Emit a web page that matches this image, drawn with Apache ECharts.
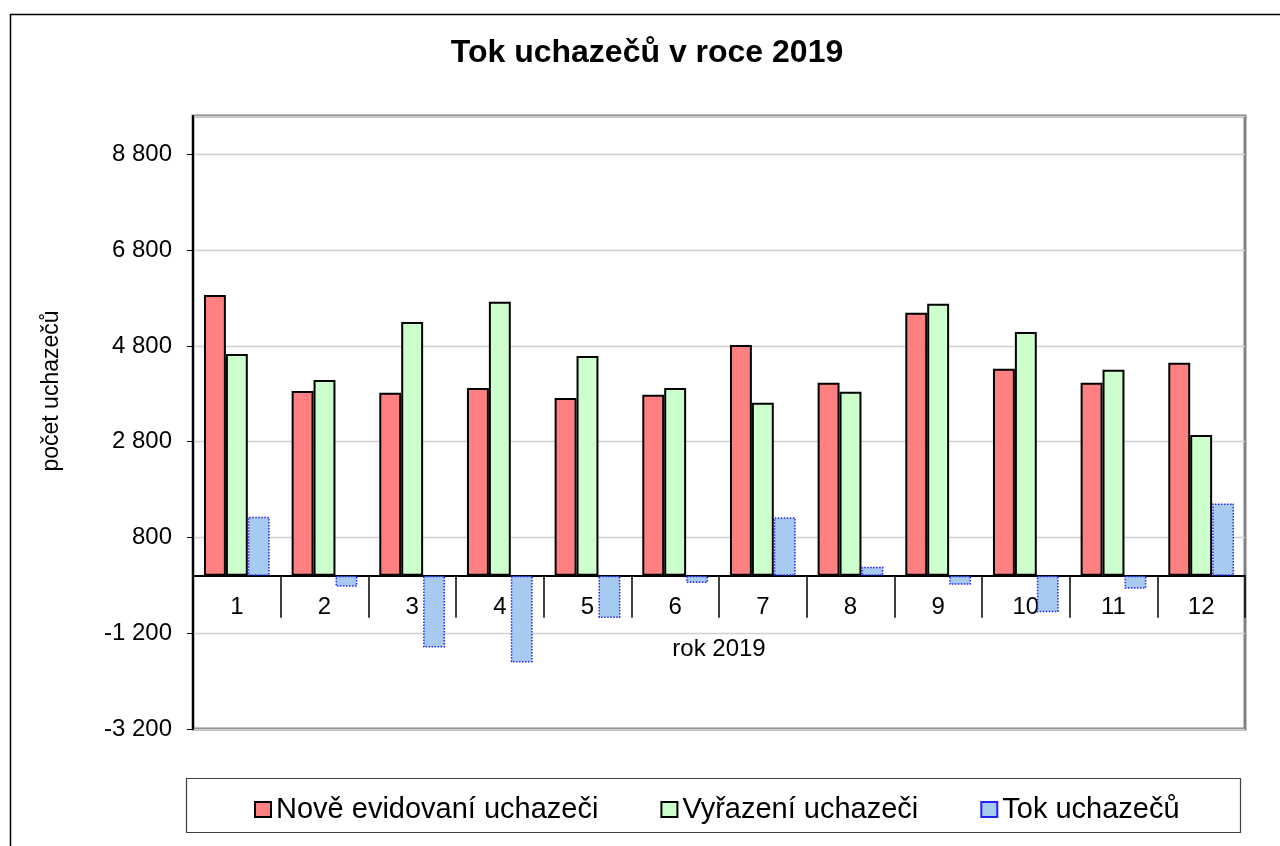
<!DOCTYPE html>
<html>
<head>
<meta charset="utf-8">
<title>Tok uchazečů v roce 2019</title>
<script src="https://cdn.jsdelivr.net/npm/echarts@6/dist/echarts.min.js"></script>
<style>
  html, body { margin: 0; padding: 0; background: #fff; }
  #chart { width: 1280px; height: 846px; }
</style>
</head>
<body>
<div id="chart"></div>
<script>
// months of 2019
var months = ['1', '2', '3', '4', '5', '6', '7', '8', '9', '10', '11', '12']
// values
var noveEvidovani = [5860, 3860, 3820, 3920, 3710, 3780, 4820, 4030, 5490, 4320, 4030, 4450]
var vyrazeni = [4630, 4090, 5300, 5720, 4590, 3920, 3610, 3840, 5680, 5090, 4300, 2940]
var tok = [1230, -230, -1500, -1810, -880, -150, 1220, 190, -190, -760, -270, 1510]
var yTicks = [-3200, -1200, 800, 2800, 4800, 6800, 8800]

var font = '"Liberation Sans", Arial, sans-serif'

function fmt (v) {
  if (yTicks.indexOf(v) < 0) return ''
  return String(v).replace(/\B(?=(\d{3})+(?!\d))/g, ' ')
}

var chart = echarts.init(document.getElementById('chart'))
var option = {
  backgroundColor: '#fff',
  animation: false,
  textStyle: { fontFamily: font },
  grid: {
    left: 193,
    right: 35,
    top: 116,
    bottom: 117,
    show: true,
    borderColor: '#808080',
    borderWidth: 3,
    backgroundColor: '#fff'
  },
  legend: {
    left: 249,
    top: 790,
    itemWidth: 16,
    itemHeight: 15,
    itemGap: 62,
    icon: 'rect',
    textStyle: { fontSize: 29, color: '#000', fontFamily: font },
    data: ['Nově evidovaní uchazeči', 'Vyřazení uchazeči', 'Tok uchazečů']
  },
  xAxis: {
    type: 'category',
    data: months,
    axisLine: { onZero: true, lineStyle: { color: '#000', width: 2 } },
    axisTick: { show: true, length: 42, interval: 0, lineStyle: { color: '#000', width: 1.5 } },
    // labels sit just under the zero line, not at the bottom of the grid
    axisLabel: { fontSize: 24, color: '#000', margin: -134, interval: 0 },
    splitLine: { show: false }
  },
  yAxis: {
    type: 'value',
    min: -3200,
    max: 9600,
    interval: 2000,
    axisLine: { show: true, onZero: false, lineStyle: { color: '#000', width: 2 } },
    axisTick: { show: true, length: 6, lineStyle: { color: '#000' } },
    axisLabel: { fontSize: 24, color: '#000', margin: 21, formatter: fmt, showMaxLabel: false },
    splitLine: { show: true, lineStyle: { color: '#D0D0D0', width: 1.3 } }
  },
  series: [
    {
      name: 'Nově evidovaní uchazeči',
      type: 'bar',
      data: noveEvidovani,
      barGap: '0%',
      barCategoryGap: '25%',
      itemStyle: { color: '#FF8080', borderColor: '#000', borderWidth: 2 }
    },
    {
      name: 'Vyřazení uchazeči',
      type: 'bar',
      data: vyrazeni,
      barGap: '0%',
      barCategoryGap: '25%',
      itemStyle: { color: '#CCFFCC', borderColor: '#000', borderWidth: 2 }
    },
    {
      name: 'Tok uchazečů',
      type: 'bar',
      data: tok,
      barGap: '0%',
      barCategoryGap: '25%',
      itemStyle: { color: '#A6CAF0', borderColor: '#2222FF', borderWidth: 1.5, borderType: 'dotted' }
    }
  ],
  graphic: [
    {
      type: 'rect',
      silent: true,
      z: -10,
      shape: { x: 10.5, y: 14.5, width: 1300, height: 900 },
      style: { fill: 'none', stroke: '#000', lineWidth: 1.5 }
    },
    {
      type: 'rect',
      silent: true,
      shape: { x: 186.5, y: 778.5, width: 1054, height: 54 },
      style: { fill: 'none', stroke: '#404040', lineWidth: 1.2 }
    },
    {
      type: 'text',
      x: 647,
      y: 53,
      style: {
        text: 'Tok uchazečů v roce 2019',
        font: 'bold 32px ' + font,
        fill: '#000',
        align: 'center',
        verticalAlign: 'middle'
      }
    },
    {
      type: 'text',
      x: 52,
      y: 391,
      rotation: Math.PI / 2,
      style: {
        text: 'počet uchazečů',
        font: '23px ' + font,
        fill: '#000',
        align: 'center',
        verticalAlign: 'middle'
      }
    },
    {
      type: 'text',
      x: 719,
      y: 649,
      style: {
        text: 'rok 2019',
        font: '24px ' + font,
        fill: '#000',
        align: 'center',
        verticalAlign: 'middle'
      }
    }
  ]
}
chart.setOption(option)
</script>
</body>
</html>
